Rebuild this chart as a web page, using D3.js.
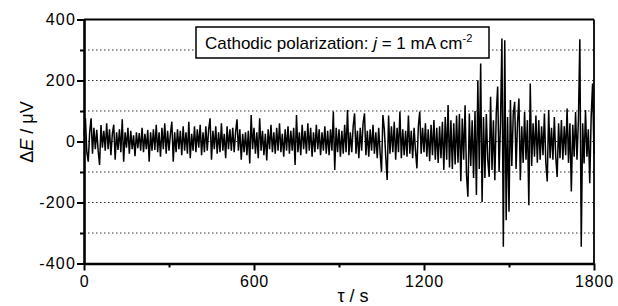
<!DOCTYPE html>
<html>
<head>
<meta charset="utf-8">
<script src="https://cdn.jsdelivr.net/npm/d3@7"></script>
<style>
  body { margin: 0; background: #fff; }
  svg { font-family: Arial, "Liberation Sans", sans-serif; }
  .grid line { stroke: #333; stroke-width: 1; stroke-dasharray: 1.5,2.5; }
</style>
</head>
<body>
<div id="chart"></div>
<script>
const width = 618, height = 306;

// time step of the series, s
const step = 5;
// ΔE values in µV, one every 5 s from 0 to 1800 s
const deltaE = [
  20, 76, -35, -66, 30, 76, -40, 45, -25, 38, -30, -77,
  54, -20, 35, -30, 60, -25, 40, -45, 25, 55, -60, 30,
  -28, 40, -35, 73, -66, 30, -20, 45, -40, 35, -25, 20,
  -48, 30, -22, 28, -30, 45, -35, 25, -25, 38, -66, 30,
  -30, 40, -28, 55, -35, 30, -50, 45, -25, 60, -40, 35,
  -30, 25, 65, -66, 30, -35, 40, -25, 35, -45, 50, -30,
  30, -40, 65, -55, 25, -30, 50, -35, 40, -20, 55, -45,
  30, -35, 50, -30, 40, 76, -60, 35, -25, 50, -40, 30,
  -35, 60, -30, 25, -55, 50, -25, 40, -30, 45, -35, 30,
  73, -30, 40, -60, 25, -35, 30, -45, 35, -72, 87, -25,
  45, -40, 30, -55, 76, -30, 35, -45, 25, -62, 40, -25,
  55, -35, 30, -40, 45, -30, 60, -35, 25, -50, 40, -30,
  50, -40, 35, -30, 45, -77, 87, -35, 30, -45, 55, -25,
  35, -40, 60, -30, 45, -50, 30, -35, 55, -25, 40, -45,
  30, -30, 50, -40, 35, -45, 40, -30, 98, -93, 45, -35,
  40, -50, 35, -40, 55, -35, 103, -45, 30, -35, 50, 92,
  -40, 35, -55, 45, -30, 60, 92, -45, 35, -50, 40, -30,
  55, -40, 30, -55, 45, -35, -99, 87, 40, -50, -126, 85,
  -40, 50, -35, 65, -60, 45, -35, 98, -55, 40, -45, 35,
  -50, 85, -40, 35, -55, 45, -30, -88, 50, 98, -40, 45,
  -35, 60, -50, 40, -65, 55, -45, 70, -60, 45, -70, 50,
  -55, 65, -93, 80, -60, 120, -85, 70, -90, 60, -75, 85,
  -70, 90, -130, 75, -60, 119, -110, -181, 92, -80, 70, -120,
  100, -175, 201, -90, 256, -198, 80, -120, 90, -60, -116, 147,
  -93, 70, -127, 92, 180, -100, 60, 338, -345, 332, -258, 80,
  -230, 136, -80, 90, 130, -90, 60, 141, -127, 50, -70, 97,
  -60, 70, -209, 190, -80, 60, -50, 85, -70, 70, -60, 50,
  -45, 92, -70, -131, 103, -55, 45, -60, 80, -50, -116, 60,
  -55, 70, -60, 50, -45, 108, -70, 60, -164, 55, -50, 97,
  -60, 70, 335, -345, 60, -72, 103, -50, 40, -137, 80, 190,
  -40
];

const xTicks = [0, 600, 1200, 1800];
const xMinor = [300, 900, 1500];
const yTicks = [-400, -200, 0, 200, 400];
const yMinor = [-300, -100, 100, 300];
const gridLevels = [-300, -200, -100, 0, 100, 200, 300];

const x = d3.scaleLinear().domain([0, 1800]).range([84, 594]);
const y = d3.scaleLinear().domain([-400, 400]).range([263.5, 19.5]);

const svg = d3.select("#chart").append("svg")
    .attr("width", width)
    .attr("height", height);

// dotted grid
svg.append("g").attr("class", "grid")
  .selectAll("line")
  .data(gridLevels)
  .join("line")
    .attr("x1", x(0)).attr("x2", x(1800))
    .attr("y1", d => y(d)).attr("y2", d => y(d));

// the signal
const line = d3.line()
    .x((d, i) => x(i * step))
    .y(d => y(d));

svg.append("path")
    .datum(deltaE)
    .attr("fill", "none")
    .attr("stroke", "#000")
    .attr("stroke-width", 1.5)
    .attr("stroke-linejoin", "miter")
    .attr("stroke-miterlimit", 2)
    .attr("d", line);

// frame (top + right)
svg.append("line")
    .attr("x1", x(0)).attr("x2", x(1800))
    .attr("y1", y(400)).attr("y2", y(400))
    .attr("stroke", "#000").attr("stroke-width", 2);
svg.append("line")
    .attr("x1", x(1800)).attr("x2", x(1800))
    .attr("y1", y(400)).attr("y2", y(-400))
    .attr("stroke", "#000").attr("stroke-width", 1.8);

const plain = d => String(d);

// left axis
const yAxis = svg.append("g")
    .attr("transform", `translate(${x(0)},0)`)
    .call(d3.axisLeft(y).tickValues(yTicks).tickFormat(plain).tickSize(7).tickPadding(1).tickSizeOuter(0));
svg.append("g")
    .attr("transform", `translate(${x(0)},0)`)
    .call(d3.axisLeft(y).tickValues(yMinor).tickSize(4).tickFormat("").tickSizeOuter(0))
    .select(".domain").remove();

// bottom axis
const xAxis = svg.append("g")
    .attr("transform", `translate(0,${y(-400)})`)
    .call(d3.axisBottom(x).tickValues(xTicks).tickFormat(plain).tickSize(7).tickPadding(5).tickSizeOuter(0));
svg.append("g")
    .attr("transform", `translate(0,${y(-400)})`)
    .call(d3.axisBottom(x).tickValues(xMinor).tickSize(4).tickFormat("").tickSizeOuter(0))
    .select(".domain").remove();

svg.selectAll(".domain").attr("stroke-width", 2.6);
svg.selectAll(".tick line").attr("stroke-width", 2);
yAxis.selectAll("text")
    .attr("font-size", 16)
    .attr("letter-spacing", "1.2px")
    .attr("fill", "#000");
xAxis.selectAll("text")
    .attr("font-size", 16)
    .attr("letter-spacing", "0.8px")
    .attr("fill", "#000");

// axis titles
const yTitle = svg.append("text")
    .attr("transform", "translate(33,132) rotate(-90)")
    .attr("text-anchor", "middle")
    .attr("font-size", 18);
yTitle.append("tspan").text("Δ");
yTitle.append("tspan").attr("font-style", "italic").text("E");
yTitle.append("tspan").text(" / μV");

svg.append("text")
    .attr("x", 353).attr("y", 302)
    .attr("text-anchor", "middle")
    .attr("font-size", 18)
    .text("τ / s");

// annotation box
svg.append("rect")
    .attr("x", 196).attr("y", 27)
    .attr("width", 293).attr("height", 31)
    .attr("fill", "#fff")
    .attr("stroke", "#000")
    .attr("stroke-width", 1.5);

const note = svg.append("text")
    .attr("x", 205).attr("y", 49)
    .attr("font-size", 17);
note.append("tspan").text("Cathodic polarization: ");
note.append("tspan").attr("font-style", "italic").text("j");
note.append("tspan").text(" = 1 mA cm");
note.append("tspan").attr("font-size", 11).attr("dy", -7).text("-2");
</script>
</body>
</html>
